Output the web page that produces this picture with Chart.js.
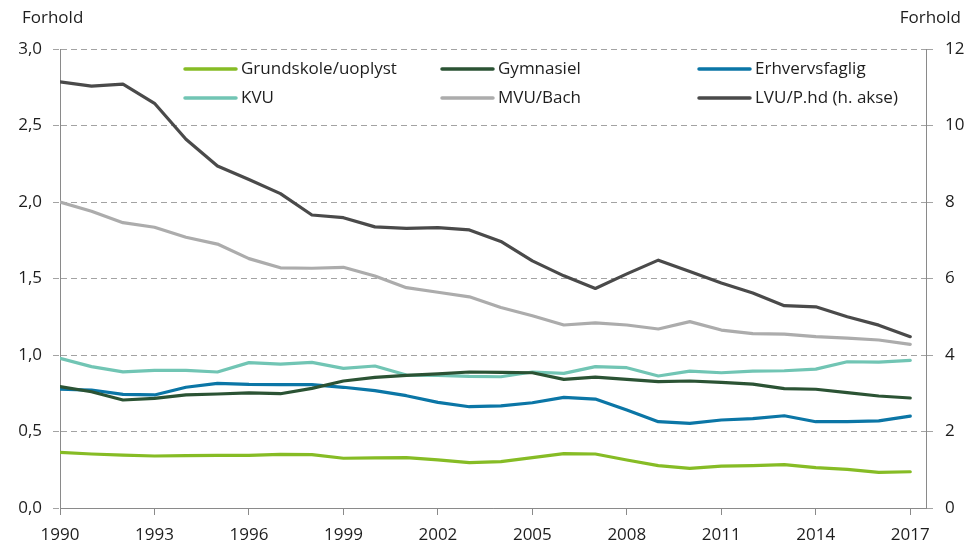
<!DOCTYPE html>
<html>
<head>
<meta charset="utf-8">
<script src="https://cdn.jsdelivr.net/npm/chart.js@4.4.1/dist/chart.umd.min.js"></script>
<style>
  html, body { margin: 0; padding: 0; background: #fff; }
  #wrap { width: 975px; height: 547px; position: relative; }
</style>
</head>
<body>
<div id="wrap"><canvas id="chart"></canvas></div>
<script>
// ============================================================
//  DATA
// ============================================================
const years = [1990, 1991, 1992, 1993, 1994, 1995, 1996, 1997, 1998, 1999,
               2000, 2001, 2002, 2003, 2004, 2005, 2006, 2007, 2008, 2009,
               2010, 2011, 2012, 2013, 2014, 2015, 2016, 2017];
const xTicks = [1990, 1993, 1996, 1999, 2002, 2005, 2008, 2011, 2014, 2017];
const leftTicks = [0, 0.5, 1, 1.5, 2, 2.5, 3];
const rightTicks = [0, 2, 4, 6, 8, 10, 12];

const grundskole = [0.364, 0.353, 0.346, 0.340, 0.342, 0.344, 0.344, 0.351, 0.349, 0.325,
                    0.327, 0.329, 0.314, 0.296, 0.303, 0.329, 0.355, 0.353, 0.314, 0.277,
                    0.259, 0.274, 0.277, 0.283, 0.264, 0.253, 0.233, 0.237];
const gymnasiel = [0.793, 0.760, 0.706, 0.717, 0.739, 0.745, 0.752, 0.747, 0.782, 0.830,
                   0.854, 0.867, 0.876, 0.889, 0.887, 0.884, 0.841, 0.856, 0.841, 0.826,
                   0.830, 0.821, 0.810, 0.780, 0.776, 0.754, 0.732, 0.719];
const erhvervsfaglig = [0.776, 0.771, 0.743, 0.739, 0.789, 0.815, 0.808, 0.806, 0.806, 0.789,
                        0.767, 0.734, 0.690, 0.662, 0.667, 0.688, 0.723, 0.712, 0.640, 0.564,
                        0.553, 0.575, 0.584, 0.603, 0.564, 0.564, 0.569, 0.601];
const kvu = [0.978, 0.924, 0.890, 0.900, 0.900, 0.889, 0.950, 0.940, 0.952, 0.913,
             0.928, 0.869, 0.867, 0.860, 0.858, 0.889, 0.880, 0.924, 0.917, 0.863,
             0.895, 0.884, 0.895, 0.897, 0.908, 0.956, 0.954, 0.965];
const mvu = [2.000, 1.940, 1.865, 1.835, 1.770, 1.725, 1.630, 1.570, 1.567, 1.573,
             1.516, 1.440, 1.410, 1.380, 1.310, 1.257, 1.196, 1.210, 1.196, 1.170,
             1.218, 1.163, 1.140, 1.137, 1.120, 1.110, 1.098, 1.070];
// right axis
const lvu = [11.14, 11.03, 11.08, 10.58, 9.64, 8.94, 8.59, 8.22, 7.66, 7.59,
             7.35, 7.31, 7.33, 7.27, 6.97, 6.46, 6.07, 5.74, 6.12, 6.48,
             6.18, 5.88, 5.62, 5.29, 5.26, 5.00, 4.78, 4.48];

const FONT = '"Open Sans", "DejaVu Sans", sans-serif';
const TEXT = '#1e1e1e';
const GRID = '#a3a3a3';
const AXIS = '#8a8a8a';

const pts = arr => arr.map((v, i) => ({ x: years[i], y: v }));
const ds = (label, data, color, axis) => ({
  label, data: pts(data), borderColor: color, backgroundColor: color,
  borderWidth: 3.2, pointRadius: 0, tension: 0, yAxisID: axis || 'y',
  borderCapStyle: 'round', borderJoinStyle: 'round'
});

// legend in 3 fixed columns, plus the two "Forhold" axis captions
const overlay = {
  id: 'overlay',
  afterDraw(chart) {
    const ctx = chart.ctx;
    ctx.save();
    ctx.font = '17px ' + FONT;
    ctx.fillStyle = TEXT;
    ctx.textBaseline = 'middle';
    ctx.textAlign = 'left';
    ctx.fillText('Forhold', 22, 18);
    ctx.textAlign = 'right';
    ctx.fillText('Forhold', 961, 18);

    const cols = [183, 440, 697], rows = [69, 98];
    chart.data.datasets.forEach((d, i) => {
      const x = cols[i % 3], y = rows[Math.floor(i / 3)];
      ctx.strokeStyle = d.borderColor;
      ctx.lineWidth = 3.5;
      ctx.lineCap = 'round';
      ctx.beginPath(); ctx.moveTo(x + 2, y); ctx.lineTo(x + 53, y); ctx.stroke();
      ctx.fillStyle = TEXT;
      ctx.textAlign = 'left';
      ctx.fillText(d.label, x + 58, y);
    });
    ctx.restore();
  }
};

const tickFont = { family: FONT, size: 17 };

new Chart(document.getElementById('chart'), {
  type: 'line',
  data: {
    datasets: [
      ds('Grundskole/uoplyst', grundskole, '#86bc25'),
      ds('Gymnasiel', gymnasiel, '#2b5334'),
      ds('Erhvervsfaglig', erhvervsfaglig, '#0b76a6'),
      ds('KVU', kvu, '#71c5b4'),
      ds('MVU/Bach', mvu, '#acacac'),
      ds('LVU/P.hd (h. akse)', lvu, '#4a4a4a', 'y2')
    ]
  },
  options: {
    responsive: true,
    maintainAspectRatio: false,
    animation: false,
    layout: { padding: { top: 49, left: 0, right: 0, bottom: 0 } },
    plugins: { legend: { display: false }, tooltip: { enabled: false } },
    scales: {
      x: {
        type: 'linear', min: 1990, max: 2017.5,
        afterBuildTicks: s => { s.ticks = xTicks.map(v => ({ value: v })); },
        afterFit: s => { s.height = 39; },
        grid: { drawOnChartArea: false, tickLength: 7, color: AXIS },
        border: { color: AXIS, width: 1 },
        ticks: { font: tickFont, color: TEXT, padding: 10, maxRotation: 0, callback: v => String(v) }
      },
      y: {
        position: 'left', min: 0, max: 3,
        afterBuildTicks: s => { s.ticks = leftTicks.map(v => ({ value: v })); },
        afterFit: s => { s.width = 60; },
        grid: { color: GRID, tickLength: 7, tickBorderDash: [6, 4] },
        border: { color: AXIS, width: 1, dash: [6, 4] },
        ticks: { font: tickFont, color: TEXT, padding: 11,
                 callback: v => v.toFixed(1).replace('.', ',') }
      },
      y2: {
        position: 'right', min: 0, max: 12,
        afterBuildTicks: s => { s.ticks = rightTicks.map(v => ({ value: v })); },
        afterFit: s => { s.width = 49; },
        grid: { drawOnChartArea: false, color: GRID, tickLength: 7 },
        border: { color: AXIS, width: 1 },
        ticks: { font: tickFont, color: TEXT, padding: 12, callback: v => String(v) }
      }
    }
  },
  plugins: [overlay]
});
</script>
</body>
</html>
